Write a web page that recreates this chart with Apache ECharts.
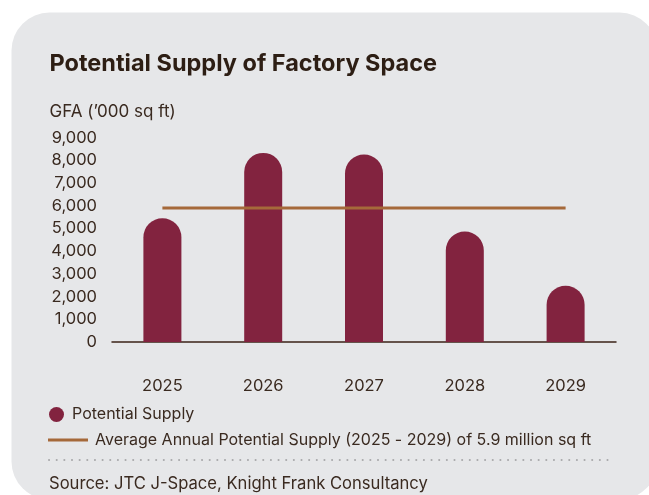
<!DOCTYPE html>
<html>
<head>
<meta charset="utf-8">
<title>Potential Supply of Factory Space</title>
<script src="https://cdn.jsdelivr.net/npm/echarts@6/dist/echarts.min.js"></script>
<style>
  html, body { margin: 0; padding: 0; background: #ffffff; }
  #chart { width: 649px; height: 495px; }
</style>
</head>
<body>
<div id="chart"></div>
<script>
// Annual potential supply of factory space, GFA in '000 sq ft
const years = ['2025', '2026', '2027', '2028', '2029'];
const potentialSupply = [5450, 8330, 8260, 4870, 2480];
// Five-year average annual supply (5.9 million sq ft)
const averageSupply = [5900, 5900, 5900, 5900, 5900];
const yTicks = { min: 0, max: 9000, interval: 1000 };

const FONT = 'Inter, "Noto Sans", sans-serif';
const TEXT = '#3a2a20';
const BAR = '#82233f';
const AVG = '#a5693a';

const chart = echarts.init(document.getElementById('chart'), null, { renderer: 'canvas' });

chart.setOption({
  backgroundColor: '#ffffff',
  animation: false,
  textStyle: { fontFamily: FONT, color: TEXT },
  graphic: [
    {
      type: 'rect',
      z: -10,
      shape: { x: 11.5, y: 12.5, width: 646, height: 487, r: 38 },
      style: { fill: '#e6e7e9' }
    },
    {
      type: 'line',
      z: 1,
      shape: { x1: 49, y1: 460, x2: 612, y2: 460 },
      style: { stroke: '#a9a9ab', lineWidth: 2, lineDash: [0.1, 7.55], lineCap: 'round' }
    },
    {
      type: 'text',
      z: 1,
      left: 49,
      top: 475.5,
      style: { text: 'Source: JTC J-Space, Knight Frank Consultancy', font: '16.6px ' + FONT, fill: TEXT }
    }
  ],
  title: [
    {
      text: 'Potential Supply of Factory Space',
      left: 49.5, top: 51.5, padding: 0,
      textStyle: { fontFamily: FONT, fontSize: 23.5, fontWeight: 'bold', color: '#2d1e14' }
    },
    {
      text: "GFA (’000 sq ft)",
      left: 49.5, top: 103.5, padding: 0,
      textStyle: { fontFamily: FONT, fontSize: 17, fontWeight: 'normal', color: TEXT }
    }
  ],
  legend: [
    {
      data: ['Potential Supply'],
      left: 49, top: 406.5, padding: 0,
      icon: 'circle', itemWidth: 15, itemHeight: 15, itemGap: 0,
      textStyle: { fontFamily: FONT, fontSize: 16, color: TEXT, padding: [0, 0, 0, 3] }
    },
    {
      data: ['Average Annual Potential Supply (2025 - 2029) of 5.9 million sq ft'],
      left: 48, top: 432, padding: 0,
      icon: 'path://M0,0H40V3H0Z', itemWidth: 40, itemHeight: 15, itemGap: 0,
      textStyle: { fontFamily: FONT, fontSize: 16, color: TEXT, padding: [0, 0, 0, 2] }
    }
  ],
  grid: { left: 112, right: 33, top: 137.7, bottom: 153, containLabel: false },
  xAxis: {
    type: 'category',
    data: years,
    boundaryGap: true,
    axisLine: { show: true, lineStyle: { color: '#3b2317', width: 1.5 } },
    axisTick: { show: false },
    axisLabel: { margin: 35.5, fontFamily: FONT, fontSize: 16.5, color: TEXT },
    splitLine: { show: false }
  },
  yAxis: {
    type: 'value',
    min: yTicks.min, max: yTicks.max, interval: yTicks.interval,
    axisLine: { show: false },
    axisTick: { show: false },
    splitLine: { show: false },
    axisLabel: {
      margin: 15, fontFamily: FONT, fontSize: 16.5, color: TEXT,
      formatter: v => v.toLocaleString('en-US')
    }
  },
  series: [
    {
      name: 'Potential Supply',
      type: 'bar',
      data: potentialSupply,
      barWidth: 38,
      itemStyle: { color: BAR, borderRadius: [19, 19, 0, 0] },
      z: 2
    },
    {
      name: 'Average Annual Potential Supply (2025 - 2029) of 5.9 million sq ft',
      type: 'line',
      data: averageSupply,
      symbol: 'none',
      lineStyle: { color: AVG, width: 3 },
      itemStyle: { color: AVG },
      z: 3
    }
  ]
});
</script>
</body>
</html>
